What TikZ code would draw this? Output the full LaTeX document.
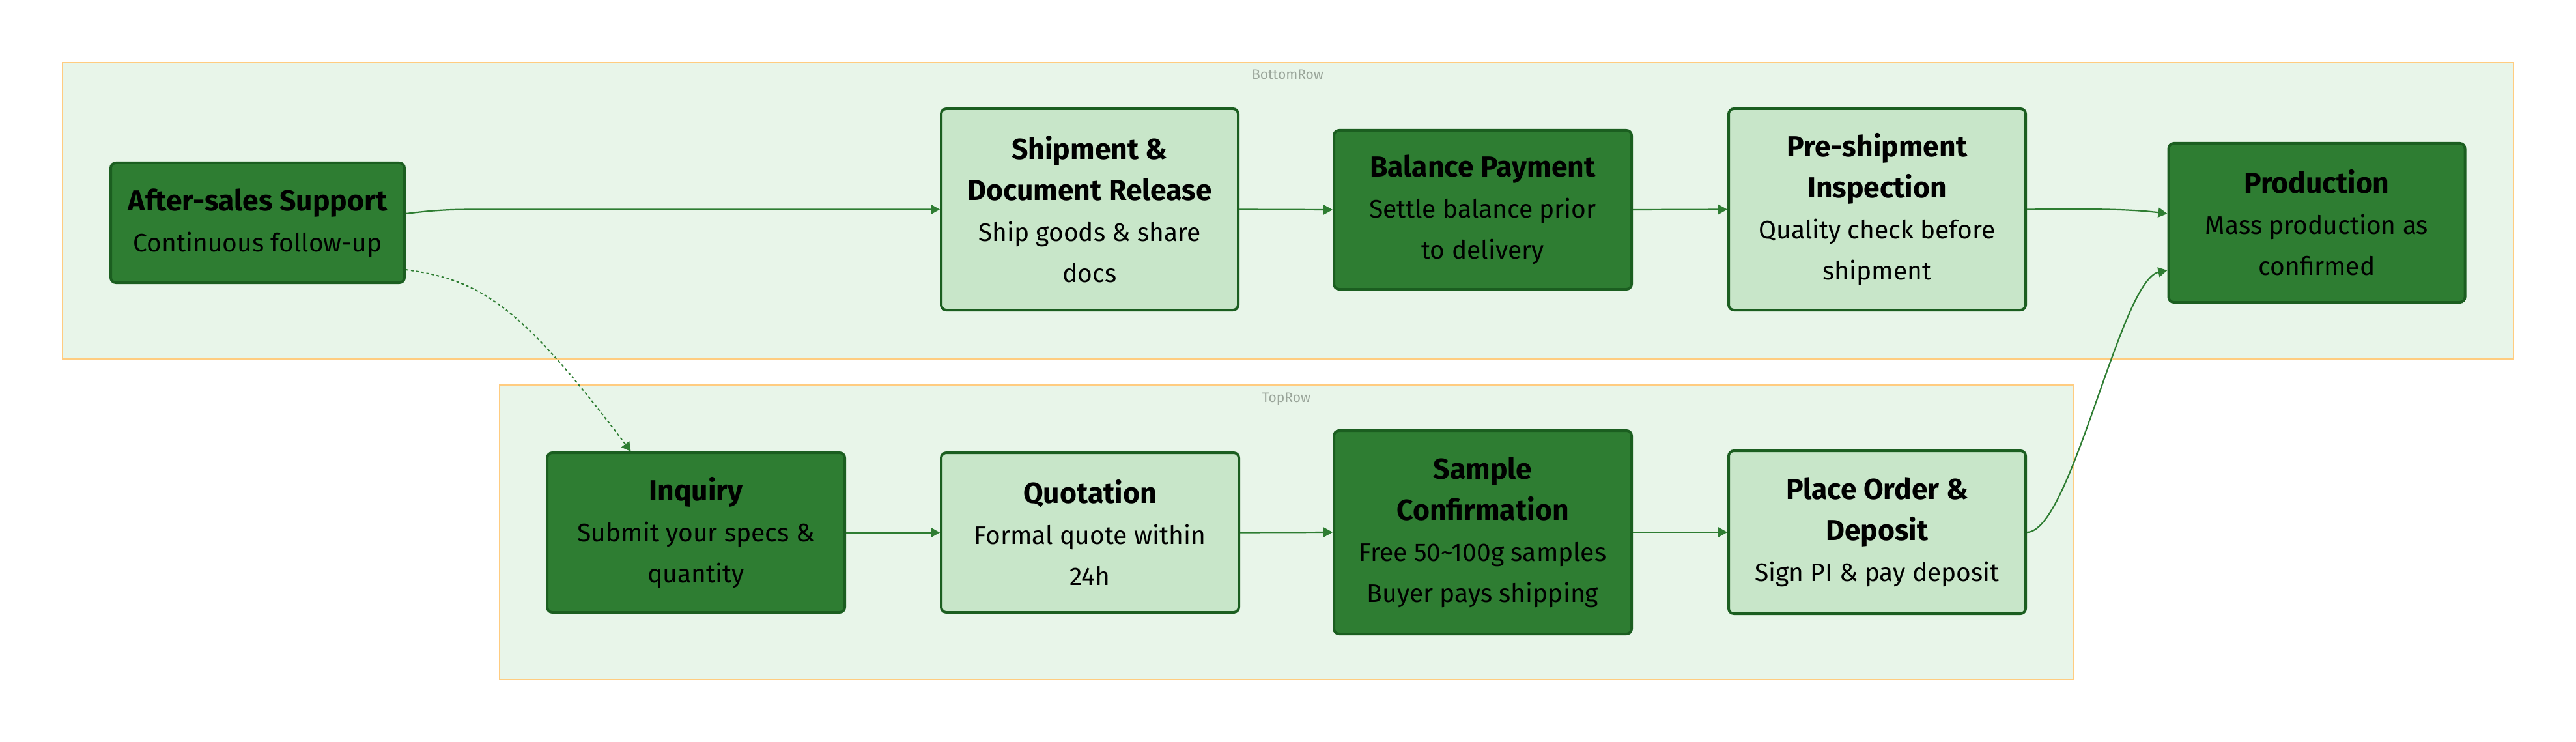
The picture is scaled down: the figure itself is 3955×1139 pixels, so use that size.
\documentclass[tikz,border=0pt]{standalone}
\usepackage{fontspec}
\setmainfont{Fira Sans}
\usetikzlibrary{arrows.meta}
\definecolor{darkfill}{HTML}{2E7D32}
\definecolor{darkline}{HTML}{1B5E20}
\definecolor{lightfill}{HTML}{C8E6C9}
\definecolor{clusterfill}{HTML}{E8F5E9}
\definecolor{clusterline}{HTML}{FFCC80}
\definecolor{edgecol}{HTML}{2E7D32}
\definecolor{labelgray}{HTML}{9AA59A}
\newcommand{\ttl}[1]{{\fontsize{44.5}{63}\selectfont\bfseries #1}}
\tikzset{
  stepbase/.style={rectangle, rounded corners=8pt, line width=4pt, draw=darkline, inner sep=0pt,
    align=center, text=black, font={\fontsize{39}{63}\selectfont}},
  darkbox/.style={stepbase, fill=darkfill},
  lightbox/.style={stepbase, fill=lightfill},
  cluster/.style={draw=clusterline, fill=clusterfill, line width=2pt},
  clusterlabel/.style={text=labelgray, font={\fontsize{21}{25}\selectfont}},
  flow/.style={draw=edgecol, line width=2.2pt, -{Triangle[length=14pt,width=15pt]}},
  dflow/.style={draw=edgecol, line width=2pt, dash pattern=on 4pt off 4pt, -{Triangle[length=14pt,width=15pt]}},
}
\begin{document}
\begin{tikzpicture}[x=1pt,y=-1pt]
\useasboundingbox (0,0) rectangle (3955,1139);
% clusters
\draw[cluster] (96,96) rectangle (3859,551);
\node[clusterlabel] (lblbottom) at (1977,114) {BottomRow};
\draw[cluster] (767,591) rectangle (3183,1043);
\node[clusterlabel] (lbltop) at (1975,612) {TopRow};
% bottom row nodes
\node[darkbox, minimum width=451pt, minimum height=184pt] (as) at (395.5,342)
  {\ttl{After-sales Support}\\Continuous follow-up};
\node[lightbox, minimum width=456pt, minimum height=309pt] (ship) at (1673,321.5)
  {\ttl{Shipment \&}\\\ttl{Document Release}\\Ship goods \& share\\docs};
\node[darkbox, minimum width=457pt, minimum height=244pt] (bal) at (2276.5,322)
  {\ttl{Balance Payment}\\Settle balance prior\\to delivery};
\node[lightbox, minimum width=456pt, minimum height=309pt] (pre) at (2882,321.5)
  {\ttl{Pre-shipment}\\\ttl{Inspection}\\Quality check before\\shipment};
\node[darkbox, minimum width=455pt, minimum height=244pt] (prod) at (3557,342)
  {\ttl{Production}\\Mass production as\\confirmed};
% top row nodes
\node[darkbox, minimum width=457pt, minimum height=245pt] (inq) at (1068.5,817.5)
  {\ttl{Inquiry}\\Submit your specs \&\\quantity};
\node[lightbox, minimum width=457pt, minimum height=245pt] (quo) at (1673.5,817.5)
  {\ttl{Quotation}\\Formal quote within\\24h};
\node[darkbox, minimum width=457pt, minimum height=312pt] (samp) at (2276.5,817)
  {\ttl{Sample}\\\ttl{Confirmation}\\Free 50\char"007E 100g samples\\Buyer pays shipping};
\node[lightbox, minimum width=456pt, minimum height=250pt] (po) at (2882,817)
  {\ttl{Place Order \&}\\\ttl{Deposit}\\Sign PI \& pay deposit};
% connectors
\draw[flow] ([yshift=14pt]as.east) .. controls (680,321) and (700,321.5) .. (760,321.5) -- (ship.west);
\draw[dflow] ([yshift=-72pt]as.east) .. controls (740,430) and (800,470) .. ([xshift=-100pt]inq.north);
\draw[flow] (ship.east) -- (bal.west);
\draw[flow] (bal.east) -- (pre.west);
\draw[flow] (pre.east) .. controls (3230,320) and (3280,322) .. ([yshift=14pt]prod.west);
\draw[flow] (inq.east) -- (quo.west);
\draw[flow] (quo.east) -- (samp.west);
\draw[flow] (samp.east) -- (po.west);
\draw[flow] (po.east) .. controls (3180,817) and (3255,430) .. ([yshift=-73pt]prod.west);
\end{tikzpicture}
\end{document}
